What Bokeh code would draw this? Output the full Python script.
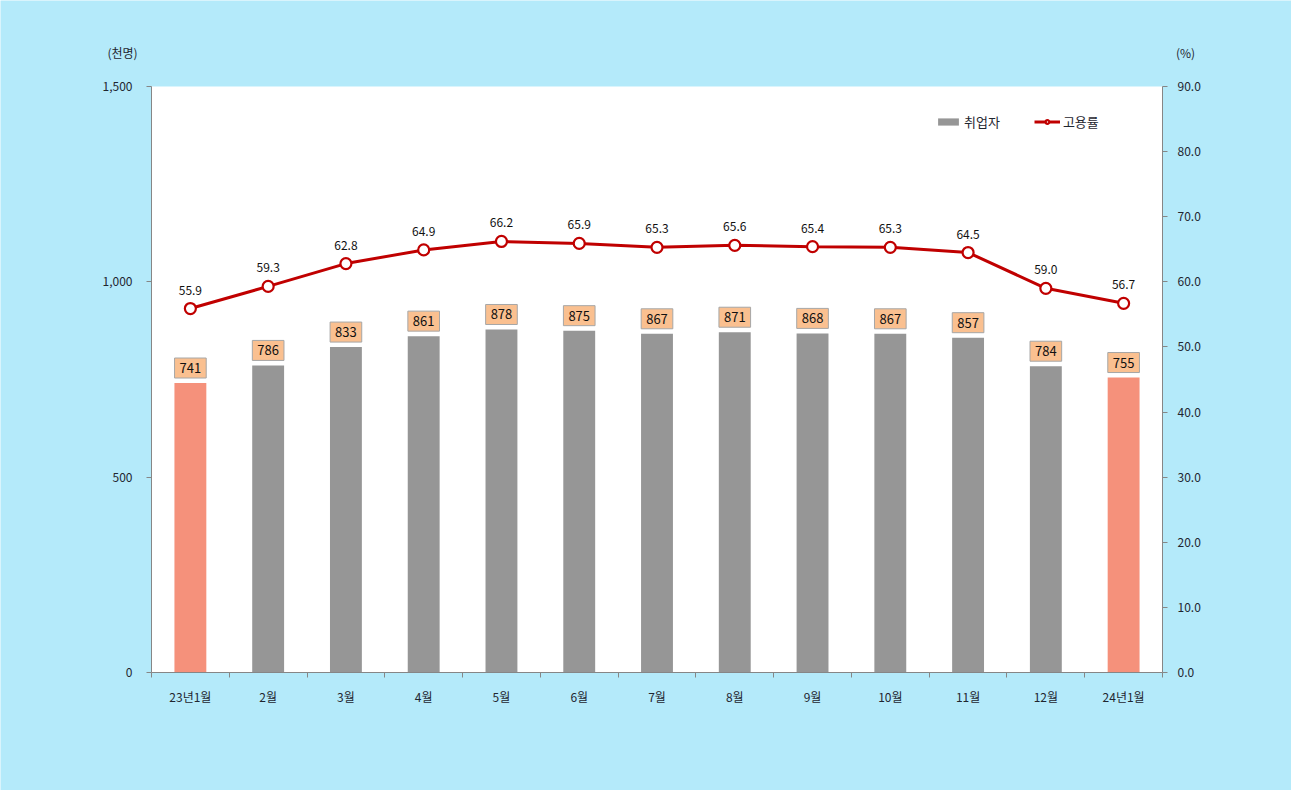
from bokeh.plotting import figure
from bokeh.models import (ColumnDataSource, LinearAxis, Range1d, FixedTicker, BoxAnnotation,
                          NumeralTickFormatter, LabelSet, Label, Legend, LegendItem)
from bokeh.core.properties import value
from bokeh.embed import file_html
from bokeh.resources import INLINE

categories = ["23년1월", "2월", "3월", "4월", "5월", "6월", "7월", "8월", "9월", "10월", "11월", "12월", "24년1월"]
employed = [741, 786, 833, 861, 878, 875, 867, 871, 868, 867, 857, 784, 755]
emp_rate = [55.9, 59.3, 62.8, 64.9, 66.2, 65.9, 65.3, 65.6, 65.4, 65.3, 64.5, 59.0, 56.7]
left_ticks = [0, 500, 1000, 1500]
right_ticks = [0, 10, 20, 30, 40, 50, 60, 70, 80, 90]

FONT = "Noto Sans CJK KR"
TXT = "#1f2630"
GRAY = "#969696"
SALMON = "#F5917B"
BG = "#B4EAFA"
n = len(categories)
xs = list(range(n))
colors = [SALMON if (i == 0 or i == n - 1) else GRAY for i in xs]

# layout in pixels: the drawing frame covers the whole canvas
W, H = 1291, 790
PL, PR, PT, PB = 151, 1162, 86, 672      # white plotting area
cat_px = (PR - PL) / n
ymax, rmax = left_ticks[-1], right_ticks[-1]
ppu = (PB - PT) / ymax
x0 = -0.5 - PL / cat_px
x1 = n - 0.5 + (W - PR) / cat_px
ytop = PB / ppu
ybot = (PB - H) / ppu
r_scale = rmax / ymax

src = ColumnDataSource(dict(
    x=xs, emp=employed, rate=emp_rate, color=colors,
    emp_txt=[str(v) for v in employed],
    rate_txt=[f"{v:.1f}" for v in emp_rate],
))

p = figure(width=W, height=H, output_backend="svg", toolbar_location=None,
           x_range=Range1d(x0, x1), y_range=Range1d(ybot, ytop),
           background_fill_color=BG, border_fill_color=BG,
           outline_line_color=None, min_border=0)
p.min_border_left = 0
p.min_border_right = 0
p.min_border_top = 0
p.min_border_bottom = 0
p.xgrid.visible = False
p.ygrid.visible = False
p.extra_y_ranges = {"pct": Range1d(ybot * r_scale, ytop * r_scale)}

p.add_layout(BoxAnnotation(left=-0.5, right=n - 0.5, bottom=0, top=ymax,
                           fill_color="white", fill_alpha=1, line_color=None, level="underlay"))

bars = p.vbar(x="x", top="emp", width=0.41, fill_color="color", line_color=None, source=src)
line = p.line(x="x", y="rate", y_range_name="pct", line_color="#C00000", line_width=3, source=src)
pts = p.scatter(x="x", y="rate", y_range_name="pct", size=11, fill_color="white",
                line_color="#C00000", line_width=2.2, source=src)

# axes
xa = p.xaxis[0]
xa.ticker = FixedTicker(ticks=xs, minor_ticks=[i - 0.5 for i in range(n + 1)])
xa.bounds = (-0.5, n - 0.5)
xa.fixed_location = 0
xa.major_label_overrides = {i: c for i, c in zip(xs, categories)}
xa.major_tick_out = 0
xa.major_tick_in = 0
xa.minor_tick_out = 5
xa.minor_tick_in = 0
xa.minor_tick_line_color = "#868686"
xa.axis_line_color = "#868686"
xa.major_label_standoff = 10
xa.major_label_text_font = FONT
xa.major_label_text_font_size = "12px"
xa.major_label_text_color = TXT

ya = p.yaxis[0]
ya.ticker = FixedTicker(ticks=left_ticks)
ya.bounds = (0, ymax)
ya.fixed_location = -0.5
ya.formatter = NumeralTickFormatter(format="0,0")
ya.minor_tick_line_color = None
ya.major_tick_out = 5
ya.major_tick_in = 0
ya.axis_line_color = "#868686"
ya.major_tick_line_color = "#868686"
ya.major_label_standoff = 14
ya.major_label_text_font = FONT
ya.major_label_text_font_size = "12px"
ya.major_label_text_color = TXT

ra = LinearAxis(y_range_name="pct", ticker=FixedTicker(ticks=right_ticks),
                formatter=NumeralTickFormatter(format="0.0"),
                bounds=(0, rmax), fixed_location=n - 0.5)
ra.minor_tick_line_color = None
ra.major_tick_out = 5
ra.major_tick_in = 0
ra.axis_line_color = "#868686"
ra.major_tick_line_color = "#868686"
ra.major_label_standoff = 10
ra.major_label_text_font = FONT
ra.major_label_text_font_size = "12px"
ra.major_label_text_color = TXT
p.add_layout(ra, "right")

# data labels (boxed, above bars)
p.text(x="x", y="emp", text="emp_txt", source=src, text_align="center",
       text_baseline="bottom", y_offset=-5, text_font=value(FONT),
       text_font_size="13px", text_color="#111111",
       background_fill_color="#FAC090", border_line_color="#A6A6A6",
       padding=5)
rate_labels = LabelSet(x="x", y="rate", y_range_name="pct", text="rate_txt", source=src,
                       text_align="center", text_baseline="bottom", y_offset=14,
                       text_font=value(FONT), text_font_size="12px", text_color="#111111")
p.add_layout(rate_labels)

# unit labels
p.add_layout(Label(x=-0.5 + (122 - PL) / cat_px, y=(PB - 52) / ppu, text="(천명)",
                   text_align="center", text_baseline="middle",
                   text_font=FONT, text_font_size="12px", text_color=TXT))
p.add_layout(Label(x=-0.5 + (1185 - PL) / cat_px, y=(PB - 52) / ppu, text="(%)",
                   text_align="center", text_baseline="middle",
                   text_font=FONT, text_font_size="12px", text_color=TXT))

legend = Legend(items=[LegendItem(label="취업자", renderers=[bars], index=1),
                       LegendItem(label="고용률", renderers=[line, pts])],
                orientation="horizontal", location=(935, H - 131),
                background_fill_alpha=0, border_line_color=None,
                glyph_width=26, glyph_height=9, label_standoff=3, spacing=34,
                padding=0, margin=0, label_height=14,
                label_text_font=FONT, label_text_font_size="13px", label_text_color=TXT)
p.add_layout(legend, "center")

open("out.html", "w").write(file_html(p, INLINE))
